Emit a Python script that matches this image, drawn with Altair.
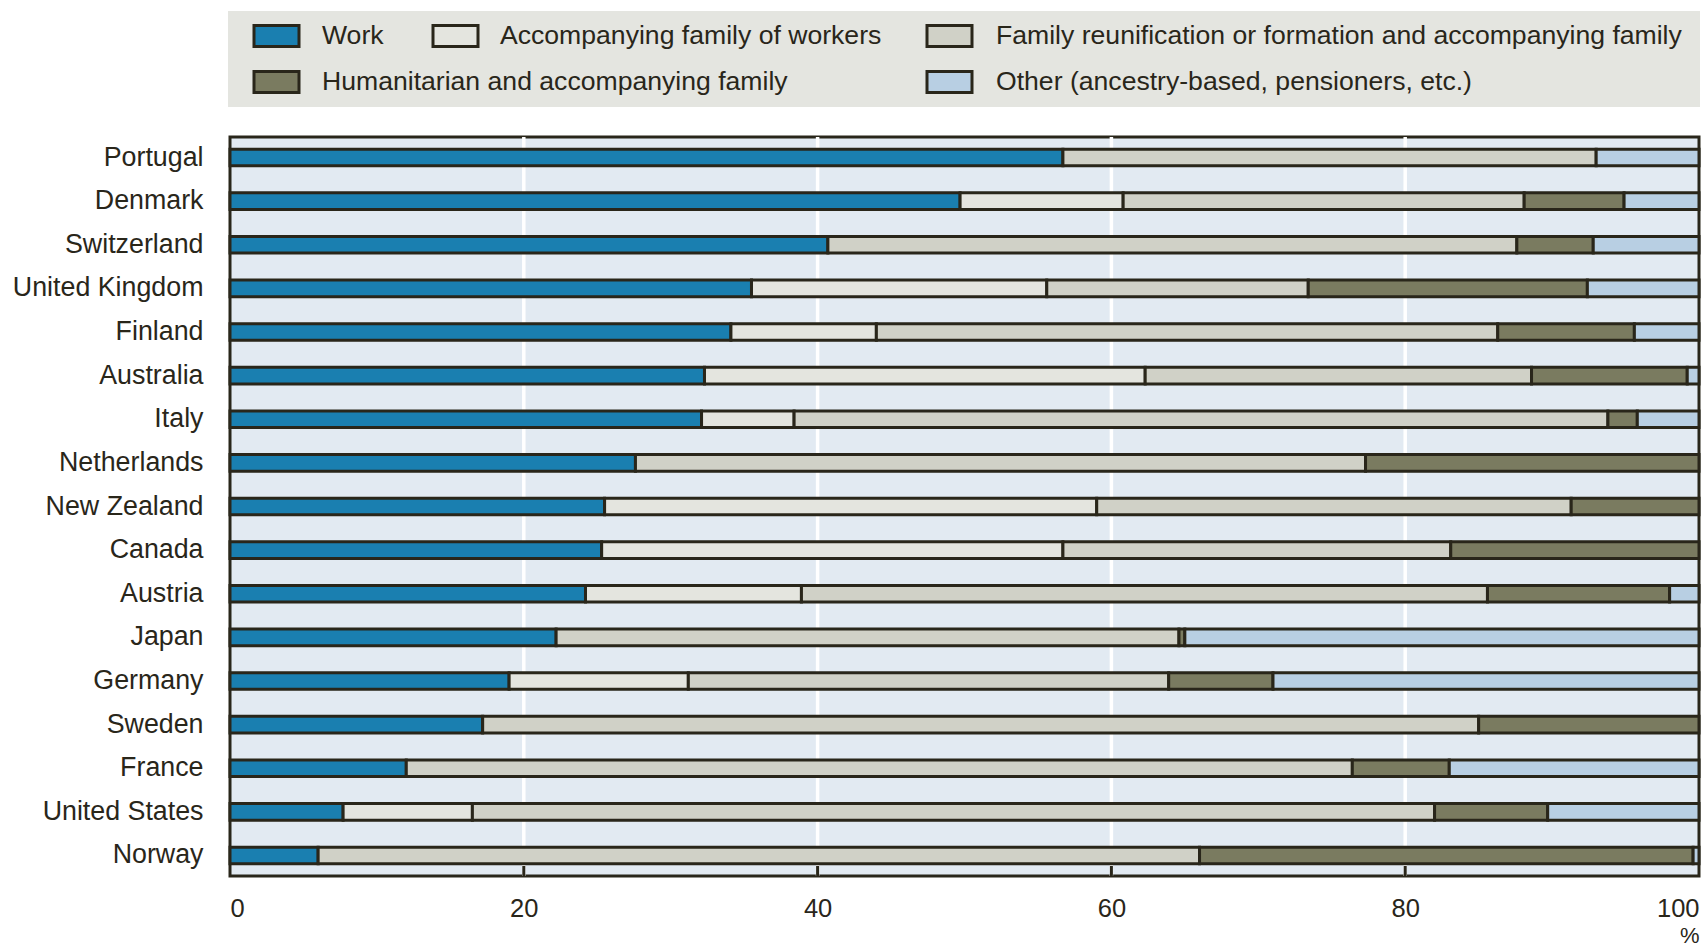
import altair as alt
import pandas as pd

countries = ["Portugal", "Denmark", "Switzerland", "United Kingdom", "Finland",
             "Australia", "Italy", "Netherlands", "New Zealand", "Canada",
             "Austria", "Japan", "Germany", "Sweden", "France",
             "United States", "Norway"]

categories = ["Work",
              "Accompanying family of workers",
              "Family reunification or formation and accompanying family",
              "Humanitarian and accompanying family",
              "Other (ancestry-based, pensioners, etc.)"]

work = [56.7, 49.7, 40.7, 35.5, 34.1, 32.3, 32.1, 27.6, 25.5, 25.3, 24.2, 22.2, 19.0, 17.2, 12.0, 7.7, 6.0]
accompanying = [0, 11.1, 0, 20.1, 9.9, 30.0, 6.3, 0, 33.5, 31.4, 14.7, 0, 12.2, 0, 0, 8.8, 0]
family = [36.3, 27.3, 46.9, 17.8, 42.3, 26.3, 55.4, 49.7, 32.3, 26.4, 46.7, 42.4, 32.7, 67.8, 64.4, 65.5, 60.0]
humanitarian = [0, 6.8, 5.2, 19.0, 9.3, 10.6, 2.0, 22.7, 8.7, 16.9, 12.4, 0.4, 7.1, 15.0, 6.6, 7.7, 33.6]
other = [7.0, 5.1, 7.2, 7.6, 4.4, 0.8, 4.2, 0, 0, 0, 2.0, 35.0, 29.0, 0, 17.0, 10.3, 0.4]

x_ticks = [0, 20, 40, 60, 80, 100]
grid_ticks = [20, 40, 60, 80]

colors = ["#1a7fb0", "#e4e5df", "#d0d1c7", "#7a7b60", "#b8cfe3"]
DARK = "#29261a"
FONT = "Liberation Sans"
W, H = 1469, 739

series = [work, accompanying, family, humanitarian, other]
rows = []
for i, c in enumerate(countries):
    for k, cat in enumerate(categories):
        v = series[k][i]
        if v > 0:
            rows.append({"country": c, "category": cat, "value": v, "ord": k})
df = pd.DataFrame(rows)

xscale = alt.Scale(domain=[0, 100], nice=False, zero=True)
cscale = alt.Scale(domain=categories, range=colors)
xaxis = alt.Axis(values=x_ticks, grid=False, ticks=False, domain=False,
                 labelFlush=True, labelFontSize=25.5, labelFont=FONT,
                 labelColor=DARK, labelPadding=20,
                 title="%", titleFontSize=22, titleFontWeight="normal",
                 titleFont=FONT, titleColor=DARK, titleX=W, titleY=59,
                 titleAlign="right", titleBaseline="middle")

grid = alt.Chart(pd.DataFrame({"t": grid_ticks})).mark_rule(
    color="white", strokeWidth=3.5
).encode(
    x=alt.X("t:Q", scale=xscale, axis=xaxis),
    y=alt.value(0), y2=alt.value(H)
)

bars = alt.Chart(df).mark_bar(stroke=DARK, strokeWidth=3).encode(
    x=alt.X("value:Q", stack="zero", scale=xscale, axis=xaxis),
    y=alt.Y("country:N", sort=countries,
            scale=alt.Scale(paddingInner=0.62, paddingOuter=0.28),
            axis=alt.Axis(title=None, ticks=False, domain=False, labelFontSize=26.8,
                          labelFont=FONT, labelColor=DARK, labelPadding=27,
                          labelLimit=400)),
    color=alt.Color("category:N", scale=cscale, legend=None),
    order=alt.Order("ord:Q"),
)

inner_ticks = alt.Chart(pd.DataFrame({"t": grid_ticks})).mark_rule(
    color=DARK, strokeWidth=3
).encode(
    x=alt.X("t:Q", scale=xscale, axis=xaxis),
    y=alt.value(729), y2=alt.value(H)
)

# legend (drawn manually to reproduce the irregular layout)
leg_sx = [24, 203, 697, 24, 697]
leg_tx = [92, 270, 766, 92, 766]
leg_ly = [-101, -101, -101, -55, -55]
leg = pd.DataFrame({"category": categories, "sx": leg_sx, "tx": leg_tx, "ly": leg_ly})
leg["sx2"] = leg["sx"] + 45
leg["sy"] = leg["ly"] - 10.5
leg["sy2"] = leg["ly"] + 10.5

leg_bg = alt.Chart(pd.DataFrame({"a": [0]})).mark_rect(fill="#e4e5e0").encode(
    x=alt.value(-2), x2=alt.value(W + 1), y=alt.value(-126), y2=alt.value(-30)
)

leg_sw = alt.Chart(leg).mark_rect(stroke=DARK, strokeWidth=3).encode(
    x=alt.X("sx:Q", scale=None, axis=None), x2="sx2:Q",
    y=alt.Y("sy:Q", scale=None, axis=None), y2="sy2:Q",
    color=alt.Color("category:N", scale=cscale, legend=None),
)

leg_tx_layer = alt.Chart(leg).mark_text(
    align="left", baseline="middle", fontSize=26.6, font=FONT, color=DARK
).encode(
    x=alt.X("tx:Q", scale=None, axis=None),
    y=alt.Y("ly:Q", scale=None, axis=None),
    text="category:N",
)

chart = alt.layer(grid, bars, inner_ticks, leg_bg, leg_sw, leg_tx_layer).properties(
    width=W, height=H,
    autosize=alt.AutoSizeParams(type="none"),
    padding={"left": 230, "top": 137, "right": 6, "bottom": 72},
    background="white",
).configure_view(
    fill="#e2eaf2", stroke=DARK, strokeWidth=3
)

chart.save("out.html", embed_options={"renderer": "svg", "actions": False})
